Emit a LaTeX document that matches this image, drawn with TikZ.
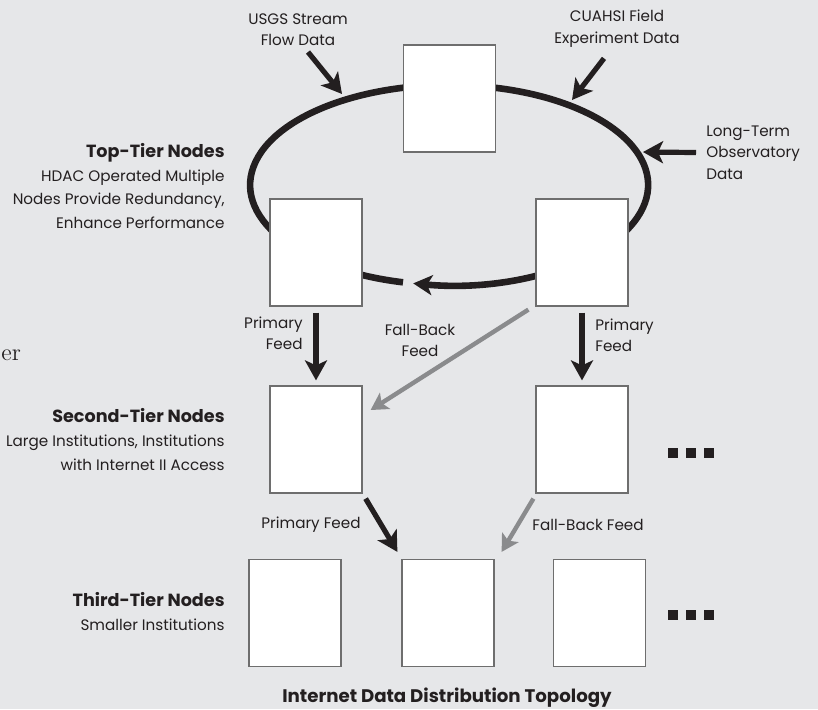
\documentclass[tikz,border=0pt]{standalone}
\usepackage{fontspec}
\setmainfont{Poppins}
\newfontfamily\lmfont{Latin Modern Roman}
\usetikzlibrary{arrows.meta}
\definecolor{bg}{RGB}{230,231,233}
\definecolor{ink}{RGB}{35,31,32}
\definecolor{fallgray}{RGB}{138,139,141}
\definecolor{boxline}{RGB}{110,110,110}
\newcommand{\tierhead}[1]{{\fontsize{8.8}{11.9}\selectfont\bfseries #1}}
\tikzset{
  lbl/.style={inner sep=0pt, text=ink, font=\fontsize{7.6}{10.7}\selectfont},
  tierlbl/.style={lbl, anchor=east, align=right, font=\fontsize{7.6}{11.9}\selectfont},
  inflow/.style={ink, line width=2.6pt, -{Stealth[length=10pt,width=11pt,inset=2.5pt]}},
  fallback/.style={fallgray, line width=2.2pt, -{Stealth[length=8.5pt,width=9.5pt,inset=2pt]}},
}
\begin{document}
\begin{tikzpicture}[x=0.5pt, y=-0.5pt]
  \fill[bg] (0,0) rectangle (818,709);
  \useasboundingbox (0,0) rectangle (818,709);

  % ring between the top-tier nodes
  \draw[ink, line width=3.3pt, -{Stealth[length=9.5pt,width=10pt,inset=2.5pt]}]
    (403,282.3) arc[start angle=256.6, end angle=-100.4, x radius=99.5pt, y radius=50pt];

  \begin{scope}[every node/.style={draw=boxline, fill=white, line width=0.6pt, minimum width=46pt, minimum height=53.5pt, inner sep=0pt}]
    \node (Top) at (449.5,98.5) {};
    \node (TL) at (316,252.5) {};
    \node (TR) at (582,252.5) {};
    \node (SL) at (316,439.5) {};
    \node (SR) at (582,439.5) {};
    \node (TA) at (295,613) {};
    \node (TB) at (448,613) {};
    \node (TC) at (599.5,613) {};
  \end{scope}

  % data sources
  \node[lbl, align=center] (usgs) at (298,29.5) {USGS Stream\\Flow Data};
  \node[lbl, align=center] (cuahsi) at (617,28.5) {CUAHSI Field\\Experiment Data};
  \node[lbl, anchor=west, align=left] (ltobs) at (706,152.5) {Long-Term\\Observatory\\Data};
  \coordinate (ringU) at (342,94);
  \coordinate (ringC) at (572,100);
  \coordinate (ringL) at (643,152);
  \draw[inflow] ([shift={(10,6)}]usgs.south) -- (ringU);
  \draw[inflow] ([shift={(-13,11)}]cuahsi.south) -- (ringC);
  \draw[inflow] ([shift={(-10,0)}]ltobs.west) -- (ringL);

  % tier labels
  \node[tierlbl] (tier1) at (225,186) {\tierhead{Top-Tier Nodes}\\HDAC Operated Multiple\\Nodes Provide Redundancy,\\Enhance Performance};
  \node[tierlbl] (tier2) at (225,439.5) {\tierhead{Second-Tier Nodes}\\Large Institutions, Institutions\\with Internet II Access};
  \node[tierlbl] (tier3) at (225,611.5) {\tierhead{Third-Tier Nodes}\\Smaller Institutions};

  % feeds
  \path (TL) edge[inflow, shorten <=3pt, shorten >=2.5pt] (SL);
  \path (TR) edge[inflow, shorten <=3pt, shorten >=2.5pt] (SR);
  \draw[fallback] ([shift={(-7,3)}]TR.south west) -- ([shift={(8,-29.5)}]SL.east);
  \draw[inflow] ([shift={(3,5)}]SL.south east) -- ([shift={(-4,-7)}]TB.north west);
  \draw[fallback] ([shift={(-2,5)}]SR.south west) -- ([shift={(7,-7)}]TB.north east);

  \node[lbl, anchor=east, align=right] at (303,333.5) {Primary\\Feed};
  \node[lbl, align=center] at (420,340.5) {Fall-Back\\Feed};
  \node[lbl, anchor=west, align=left] at (595,335.5) {Primary\\Feed};
  \node[lbl, anchor=east] at (361,525) {Primary Feed};
  \node[lbl, anchor=west] at (532,525) {Fall-Back Feed};

  % more nodes
  \foreach \y in {452.5,615} {
    \foreach \x in {673,690.5,709}
      \fill[ink] (\x-5,\y-5) rectangle (\x+5,\y+5);
  }

  \node[lbl, font=\fontsize{9.1}{11}\selectfont\bfseries] (title) at (447,698) {Internet Data Distribution Topology};
  \node[inner sep=0pt, anchor=base west, text=ink, font=\fontsize{12}{14}\selectfont\lmfont] at (1,360) {er};
\end{tikzpicture}
\end{document}
